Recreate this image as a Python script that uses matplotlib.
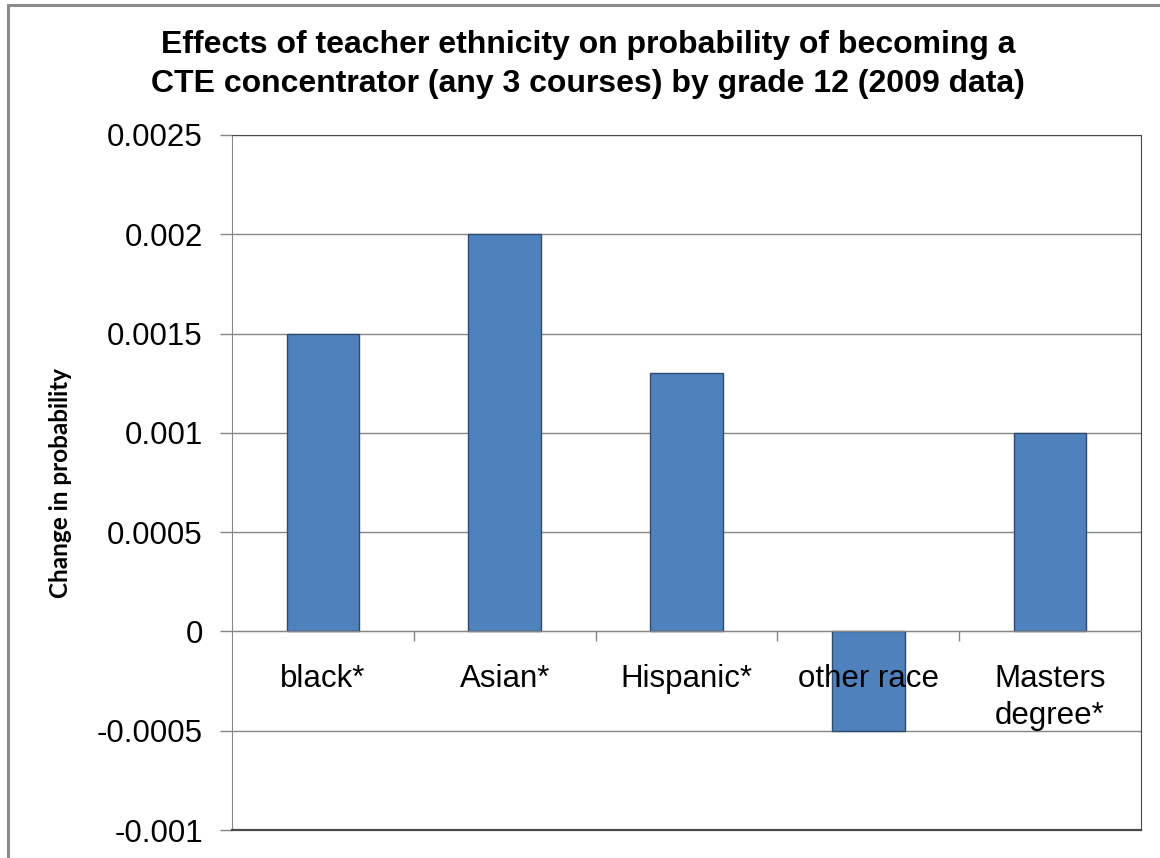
import matplotlib
matplotlib.use("Agg")
import matplotlib.pyplot as plt
from matplotlib.patches import Rectangle

categories = ["black*", "Asian*", "Hispanic*", "other race", "Masters\ndegree*"]
values = [0.0015, 0.002, 0.0013, -0.0005, 0.001]
yticks = [-0.001, -0.0005, 0, 0.0005, 0.001, 0.0015, 0.002, 0.0025]
ytick_labels = ["-0.001", "-0.0005", "0", "0.0005", "0.001", "0.0015", "0.002", "0.0025"]
title_lines = ["Effects of teacher ethnicity on probability of becoming a",
               "CTE concentrator (any 3 courses) by grade 12 (2009 data)"]
ylabel = "Change in probability"

W, H = 1160, 858
fig = plt.figure(figsize=(W / 100, H / 100), dpi=100)
fig.patch.set_facecolor("white")

ax = fig.add_axes([232 / W, 1 - 830 / H, (1141 - 232) / W, (830 - 135) / H])
x = list(range(len(categories)))
ax.bar(x, values, width=0.4, color="#4F81BD", edgecolor="#2E4A6E", linewidth=1.0, zorder=2)

ax.set_xlim(-0.5, len(categories) - 0.5)
ax.set_ylim(yticks[0], yticks[-1])
ax.set_yticks(yticks)
ax.set_yticklabels(ytick_labels, fontsize=22.5, family="Liberation Sans")
ax.tick_params(axis="y", direction="out", length=9, width=1, color="#868686", pad=12)
ax.grid(axis="y", color="#868686", linewidth=1, zorder=0)
ax.set_axisbelow(True)

# x axis at zero
ax.spines["bottom"].set_position(("data", 0))
ax.spines["bottom"].set_color("#868686")
ax.spines["bottom"].set_zorder(3)
ax.spines["left"].set_color("#868686")
for s in ["top", "right"]:
    ax.spines[s].set_color("#4a4a4a")
ax.axhline(yticks[0], color="#4a4a4a", linewidth=1.6, clip_on=False, zorder=3)
ax.set_xticks([i + 0.5 for i in range(len(categories) - 1)])
ax.set_xticklabels([])
ax.tick_params(axis="x", direction="out", length=7.5, width=1, color="#868686")

for i, c in enumerate(categories):
    ax.annotate(c, xy=(i, 0), xytext=(0, -33), textcoords="offset pixels",
                ha="center", va="top", fontsize=22.5, family="Liberation Sans",
                linespacing=1.3, zorder=5)

for k, (line, base) in enumerate(zip(title_lines, [53, 92])):
    fig.text(588 / W, 1 - base / H, line, ha="center", va="baseline", fontsize=23,
             fontweight="bold", family="Liberation Sans")
fig.text(60 / W, 1 - 483 / H, ylabel, rotation=90, ha="center", va="center",
         fontsize=17.5, fontweight="bold", family="Lato")

fig.patches.append(Rectangle((8 / W, -0.2), 1.5, 1 - 5 / H + 0.2, transform=fig.transFigure,
                             fill=False, edgecolor="#8c8c8c", linewidth=2.2))

fig.savefig("out.png", dpi=100)
